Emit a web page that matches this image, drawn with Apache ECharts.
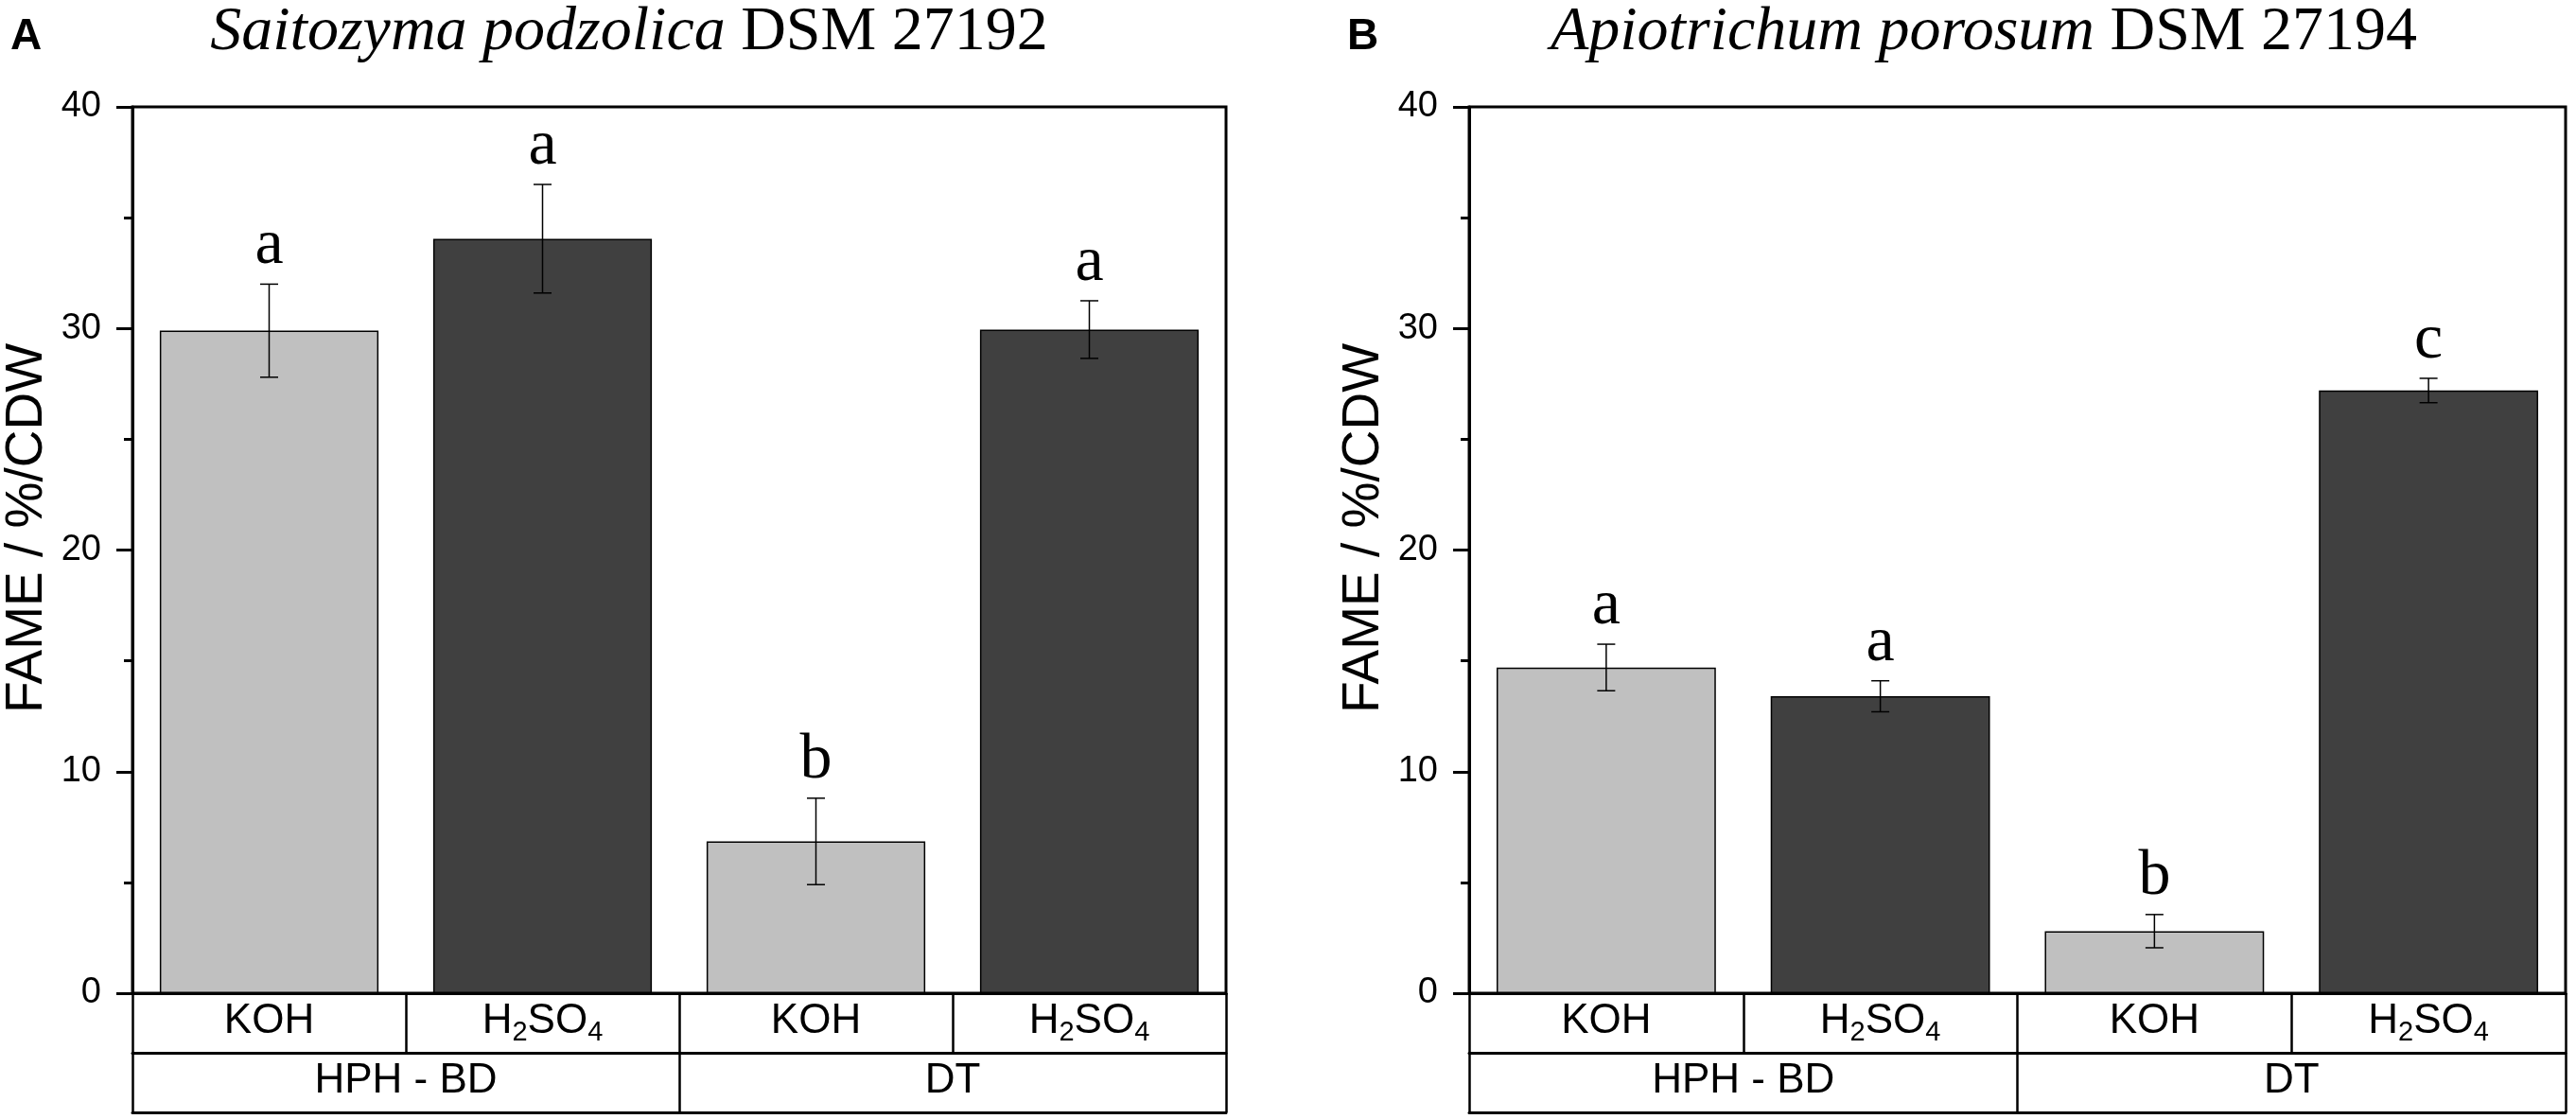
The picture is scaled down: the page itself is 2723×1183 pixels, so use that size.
<!DOCTYPE html>
<html>
<head>
<meta charset="utf-8">
<script src="https://cdn.jsdelivr.net/npm/echarts@6/dist/echarts.min.js"></script>
<style>
  html, body { margin: 0; padding: 0; background: #fff; }
  #chart { width: 2723px; height: 1183px; }
</style>
</head>
<body>
<div id="chart"></div>
<script>
// data
const treatments = ['KOH', 'H2SO4', 'KOH', 'H2SO4'];
const methods = ['HPH - BD', 'DT'];
const yTicks = [0, 10, 20, 30, 40];

const meanA = [29.9, 34.05, 6.85, 29.95];
const errA = [2.1, 2.45, 1.95, 1.3];
const letterA = ['a', 'a', 'b', 'a'];

const meanB = [14.7, 13.4, 2.8, 27.2];
const errB = [1.05, 0.7, 0.75, 0.55];
const letterB = ['a', 'a', 'b', 'c'];

const titleA = ['Saitozyma podzolica', 'DSM 27192'];
const titleB = ['Apiotrichum porosum', 'DSM 27194'];

const light = '#c0c0c0';
const dark = '#404040';
const sans = '"Liberation Sans", Arial, sans-serif';
const serif = '"Liberation Serif", "Times New Roman", serif';

const chart = echarts.init(document.getElementById('chart'));

const grids = [
  { left: 134, top: 113, width: 1162, height: 937 },
  { left: 1553, top: 113, width: 1159, height: 937 }
];

function subLabel(v) {
  if (v === 'H2SO4') return '{n|H}{s|2}{n|SO}{s|4}';
  return '{n|' + v + '}';
}
const tableRich = {
  n: { fontSize: 44, fontFamily: sans, color: '#000', verticalAlign: 'top', lineHeight: 48 },
  s: { fontSize: 29, fontFamily: sans, color: '#000', verticalAlign: 'bottom', lineHeight: 29, padding: [25, 0, 0, 0] }
};

const xAxes = [];
const yAxes = [];
const series = [];

[0, 1].forEach(function (g) {
  const mean = g === 0 ? meanA : meanB;
  const err = g === 0 ? errA : errB;
  const letters = g === 0 ? letterA : letterB;

  // row 1 of the table: treatments
  xAxes.push({
    type: 'category', gridIndex: g, data: treatments, position: 'bottom',
    axisLine: { lineStyle: { color: '#000', width: 3 } },
    axisTick: { show: true, length: 63, lineStyle: { color: '#000', width: 2.5 } },
    axisLabel: { margin: 8, formatter: subLabel, rich: tableRich },
    splitLine: { show: false }
  });
  // row 2 of the table: methods
  xAxes.push({
    type: 'category', gridIndex: g, data: methods, position: 'bottom', offset: 63,
    axisLine: { lineStyle: { color: '#000', width: 3 } },
    axisTick: { show: true, length: 63, lineStyle: { color: '#000', width: 2.5 } },
    axisLabel: { margin: 8, formatter: subLabel, rich: tableRich },
    splitLine: { show: false }
  });
  // bottom line of the table
  xAxes.push({
    type: 'category', gridIndex: g, data: methods, position: 'bottom', offset: 126,
    axisLine: { lineStyle: { color: '#000', width: 3 } },
    axisTick: { show: false }, axisLabel: { show: false }
  });

  yAxes.push({
    type: 'value', gridIndex: g, min: yTicks[0], max: yTicks[yTicks.length - 1], interval: 10,
    name: 'FAME / %/CDW', nameLocation: 'middle', nameGap: 84,
    nameTextStyle: { fontSize: 55, fontFamily: sans, color: '#000', padding: [0, 0, 0, 46] },
    axisLine: { show: true, lineStyle: { color: '#000', width: 3 } },
    axisTick: { show: true, length: 17, lineStyle: { color: '#000', width: 3 } },
    minorTick: { show: true, splitNumber: 2, length: 9, lineStyle: { color: '#000', width: 3 } },
    axisLabel: { fontSize: 38, fontFamily: sans, color: '#000', margin: 33 },
    splitLine: { show: false }
  });

  series.push({
    type: 'bar', xAxisIndex: g * 3, yAxisIndex: g, barWidth: '80%',
    data: mean.map(function (v, i) {
      return { value: v, itemStyle: { color: i % 2 === 0 ? light : dark } };
    }),
    itemStyle: { borderColor: '#000', borderWidth: 1.5 },
    silent: true, z: 2
  });

  series.push({
    type: 'custom', xAxisIndex: g * 3, yAxisIndex: g, z: 3, silent: true,
    data: mean.map(function (v, i) { return [i, v - err[i], v + err[i], i]; }),
    renderItem: function (params, api) {
      const lo = api.coord([api.value(0), api.value(1)]);
      const hi = api.coord([api.value(0), api.value(2)]);
      const half = 9.5;
      const ls = { stroke: '#000', lineWidth: 1.5 };
      return {
        type: 'group',
        children: [
          { type: 'line', shape: { x1: lo[0], y1: lo[1], x2: hi[0], y2: hi[1] }, style: ls },
          { type: 'line', shape: { x1: lo[0] - half, y1: lo[1], x2: lo[0] + half, y2: lo[1] }, style: ls },
          { type: 'line', shape: { x1: hi[0] - half, y1: hi[1], x2: hi[0] + half, y2: hi[1] }, style: ls },
          {
            type: 'text', x: hi[0], y: hi[1] - 6,
            style: {
              text: letters[api.value(3)], fontSize: 68, fontFamily: serif, fill: '#000',
              align: 'center', verticalAlign: 'bottom'
            }
          }
        ]
      };
    }
  });
});

const titleRich = {
  i: { fontSize: 66, fontFamily: serif, fontStyle: 'italic', fill: '#000' },
  r: { fontSize: 66, fontFamily: serif, fill: '#000' }
};

chart.setOption({
  animation: false,
  grid: grids.map(function (gr) {
    return Object.assign({ show: true, borderColor: '#000', borderWidth: 3, backgroundColor: 'transparent' }, gr);
  }),
  xAxis: xAxes,
  yAxis: yAxes,
  series: series,
  graphic: [
    { type: 'text', left: 11, top: 16, style: { text: 'A', fontSize: 46, fontWeight: 'bold', fontFamily: sans, fill: '#000' } },
    { type: 'text', left: 1424, top: 16, style: { text: 'B', fontSize: 46, fontWeight: 'bold', fontFamily: sans, fill: '#000' } },
    {
      type: 'text', x: 665, y: 2,
      style: { text: '{i|' + titleA[0] + ' }{r|' + titleA[1] + '}', rich: titleRich, align: 'center', verticalAlign: 'top' }
    },
    {
      type: 'text', x: 2097, y: 2,
      style: { text: '{i|' + titleB[0] + ' }{r|' + titleB[1] + '}', rich: titleRich, align: 'center', verticalAlign: 'top' }
    }
  ]
});
</script>
</body>
</html>
